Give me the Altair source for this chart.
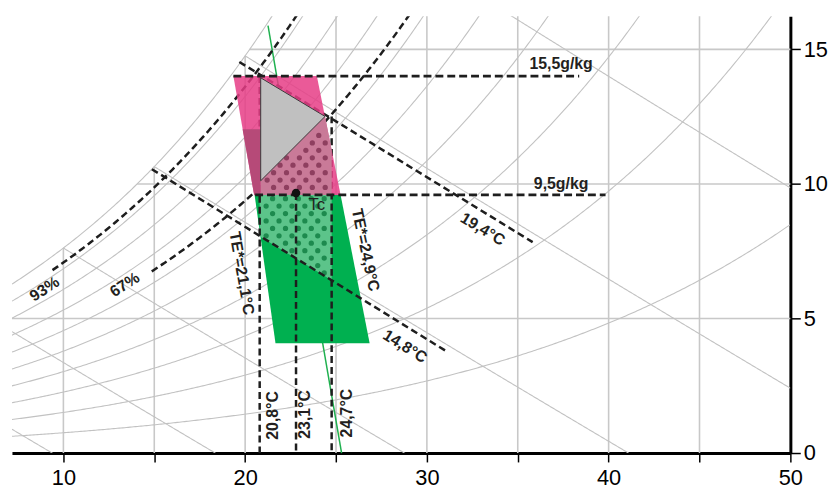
import altair as alt
import pandas as pd
import numpy as np

# ---------------- data ----------------
T_MIN, T_MAX = 7.17, 50.0
W_MIN, W_MAX = 0.0, 16.23

x_ticks = [10, 15, 20, 25, 30, 35, 40, 45, 50]
y_ticks = [0, 5, 10, 15]
grid_T = [10, 15, 20, 25, 30, 35, 40, 45]
grid_W = [5, 10, 15]
rh_levels = [0.1, 0.2, 0.3, 0.4, 0.5, 0.6, 0.7, 0.8, 0.9, 1.0]
wb_levels = [0, 5, 10, 15, 20, 25]

# zones (dry bulb degC, humidity ratio g/kg)
pink_W = [9.592, 14.007]
pink_Tl = [20.497, 19.353]
pink_Tr = [25.253, 23.946]

green_W = [4.08, 9.592]
green_Tl = [21.67, 20.52]
green_Tr = [26.85, 25.253]

strip_W = [9.592, 12.03]
strip_Tl = [20.497, 19.86]
strip_Tr = [20.856, 20.856]

tri_T = [20.856, 24.397]
tri_Wlo = [10.118, 12.509]
tri_Whi = [13.944, 12.509]

pdot_T = [20.856, 24.397, 24.761]
pdot_Wtop = [10.118, 12.509, 11.247]
pdot_Wbot = [9.592, 9.592, 9.592]

gdot_T = [20.8, 24.761]
gdot_Wtop = [9.592, 9.592]
gdot_Wbot = [8.054, 6.416]

# dashed reference lines: (name, [T...], [W...])
dash_segments = [
    ("v20.8", [20.8, 20.8], [14.007, -0.12]),
    ("v23.1", [22.80, 22.80], [9.665, -0.05]),
    ("v24.7", [24.76, 24.76], [12.509, -0.12]),
    ("wb19.4", [19.68, 35.82], [14.533, 7.837]),
    ("wb14.8", [14.868, 31.026], [10.548, 3.801]),
]
top_dash = [
    ("w15.5", [19.353, 38.38], [14.007, 14.007]),
    ("w9.5", [20.55, 39.83], [9.592, 9.592]),
]
rh_dash = [("93%", 0.93, 9.40), ("67%", 0.645, 14.86)]

green_line_T = [21.259, 25.307]
green_line_W = [15.883, 0.0]

tc_T, tc_W = [22.80], [9.665]

labels = ["93%", "67%", "TE*=21,1°C", "TE*=24,9°C", "20,8°C", "23,1°C", "24,7°C",
          "15,5g/kg", "9,5g/kg", "19,4°C", "14,8°C", "Tc"]
label_T = [8.965, 13.378, 19.805, 26.615, 21.532, 23.308, 25.623,
           37.385, 37.385, 33.07, 28.794, 23.946]
label_W = [6.089, 6.255, 6.678, 7.542, 1.398, 1.435, 1.483,
           14.441, 9.996, 8.315, 3.955, 9.198]
label_angle = [327, 327, 80, 78, 270, 270, 270, 0, 0, 31, 32, 0]
label_bold = [1, 1, 1, 1, 1, 1, 1, 1, 1, 1, 1, 0]

# ---------------- psychrometrics (chart construction) ----------------
P = 101.325


def ps_std(T):
    T = np.asarray(T, dtype=float)
    return 0.61094 * np.exp(17.625 * T / (T + 243.04))


def ps_chart(T):
    T = np.asarray(T, dtype=float)
    return ps_std(T) * (1 + 6.5e-5 * np.clip(T - 10, 0, None) ** 2)


def w_rh(T, rh, f=ps_chart):
    pv = rh * f(T)
    return 622 * pv / (P - pv)


def w_wb(T, twb):
    p = ps_chart(twb)
    ws = 0.622 * p / (P - p)
    return 1000 * ((2501 - 2.326 * twb) * ws - 1.006 * (T - twb)) / (2501 + 1.86 * T - 4.186 * twb)


Tf = np.arange(0, 50.001, 0.05)
Wsat = w_rh(Tf, 1.0)

rows = []
for rh in rh_levels:
    Ts = np.arange(T_MIN, T_MAX + 0.001, 0.1)
    Ws = w_rh(Ts, rh)
    keep = Ws <= W_MAX + 1.0
    for k, (t, w) in enumerate(zip(Ts[keep], Ws[keep])):
        rows.append({"id": f"rh{rh}", "k": k, "T": t, "W": w})
for twb in wb_levels:
    Ts = np.arange(max(twb, T_MIN), T_MAX + 0.001, 0.05)
    Ws = w_wb(Ts, twb)
    idx = np.where(Ws < 0)[0]
    end = idx[0] + 1 if len(idx) else len(Ts)
    for k, (t, w) in enumerate(zip(Ts[:end], Ws[:end])):
        rows.append({"id": f"wb{twb}", "k": k, "T": t, "W": w})
df_curves = pd.DataFrame(rows)

df_gv = pd.DataFrame({"T": grid_T,
                      "W0": [0.0] * len(grid_T),
                      "W1": [min(float(w_rh(t, 1.0)), W_MAX) for t in grid_T]})
df_gh = pd.DataFrame({"W": grid_W,
                      "T0": [max(T_MIN, float(np.interp(w, Wsat, Tf))) for w in grid_W],
                      "T1": [T_MAX] * len(grid_W)})

rows = []
for name, rh, t0 in rh_dash:
    Ts = np.arange(t0, 32, 0.1)
    Ws = w_rh(Ts, rh, ps_std)
    keep = Ws <= W_MAX + 0.6
    for k, (t, w) in enumerate(zip(Ts[keep], Ws[keep])):
        rows.append({"id": name, "k": k, "T": t, "W": w})
for name, ts, ws in dash_segments:
    for k, (t, w) in enumerate(zip(ts, ws)):
        rows.append({"id": name, "k": k, "T": t, "W": w})
df_dash = pd.DataFrame(rows)

rows = []
for name, ts, ws in top_dash:
    for k, (t, w) in enumerate(zip(ts, ws)):
        rows.append({"id": name, "k": k, "T": t, "W": w})
df_top = pd.DataFrame(rows)


def in_poly(x, y, poly):
    inside = False
    n = len(poly)
    for i in range(n):
        x1, y1 = poly[i]
        x2, y2 = poly[(i + 1) % n]
        if (y1 > y) != (y2 > y):
            xi = x1 + (y - y1) * (x2 - x1) / (y2 - y1)
            if x < xi:
                inside = not inside
    return inside


def dot_grid(poly, dx=0.71, dy=0.276):
    xs = [p[0] for p in poly]
    ys = [p[1] for p in poly]
    out = []
    i = 0
    y = min(ys) - dy
    while y <= max(ys) + dy:
        off = (dx / 2) if i % 2 else 0
        x = min(xs) - dx + off
        while x <= max(xs) + dx:
            ok = all(in_poly(x + ax, y + ay, poly)
                     for ax, ay in [(0, 0), (0.13, 0), (-0.13, 0), (0, 0.09), (0, -0.09)])
            if ok:
                out.append({"T": x, "W": y})
            x += dx
        y += dy
        i += 1
    return pd.DataFrame(out)


pink_poly = [(pdot_T[0], pdot_Wtop[0]), (pdot_T[1], pdot_Wtop[1]), (pdot_T[2], pdot_Wtop[2]),
             (pdot_T[2], pdot_Wbot[2]), (pdot_T[0], pdot_Wbot[0])]
green_poly = [(gdot_T[0], gdot_Wtop[0]), (gdot_T[1], gdot_Wtop[1]),
              (gdot_T[1], gdot_Wbot[1]), (gdot_T[0], gdot_Wbot[0])]
df_pdots = dot_grid(pink_poly)
df_gdots = dot_grid(green_poly)

# ---------------- encodings ----------------
xs = alt.Scale(domain=[T_MIN, T_MAX], nice=False, zero=False)
ys = alt.Scale(domain=[W_MIN, W_MAX], nice=False, zero=False)
AXFONT = "Liberation Sans, Arial"
x_axis = alt.Axis(values=x_ticks, labelExpr="datum.value % 10 == 0 ? datum.label : ''",
                  title=None, grid=False, orient="bottom", domainColor="black", domainWidth=3,
                  tickColor="black", tickWidth=1.5, tickSize=9, labelFontSize=22,
                  labelFont=AXFONT, labelColor="black", labelPadding=6, labelFlush=False,
                  labelOverlap=False)
y_axis = alt.Axis(values=y_ticks, title=None, grid=False, orient="right", domainColor="black",
                  domainWidth=3, tickColor="black", tickWidth=1.5, tickSize=10, labelFontSize=22,
                  labelFont=AXFONT, labelColor="black", labelPadding=3, labelFlush=False,
                  labelOverlap=False)


def X(f):
    return alt.X(f, type="quantitative", scale=xs, axis=x_axis)


def Y(f):
    return alt.Y(f, type="quantitative", scale=ys, axis=y_axis)


def quad_h(W, Tl, Tr, color, opacity=1.0):
    df = pd.DataFrame({"W": W, "Tl": Tl, "Tr": Tr})
    return alt.Chart(df).mark_area(orient="horizontal", color=color, opacity=opacity).encode(
        y=Y("W"), x=X("Tl"), x2=alt.X2("Tr"))


def quad_v(T, Wlo, Whi, color, opacity=1.0, stroke=None):
    df = pd.DataFrame({"T": T, "Wlo": Wlo, "Whi": Whi})
    kw = dict(orient="vertical", color=color, opacity=opacity)
    if stroke:
        kw.update(stroke=stroke, strokeWidth=1)
    return alt.Chart(df).mark_area(**kw).encode(x=X("T"), y=Y("Wlo"), y2=alt.Y2("Whi"))


grid_v = alt.Chart(df_gv).mark_rule(color="#c8c8c8", strokeWidth=1.6).encode(
    x=X("T"), y=Y("W0"), y2=alt.Y2("W1"))
grid_h = alt.Chart(df_gh).mark_rule(color="#c8c8c8", strokeWidth=1.6).encode(
    y=Y("W"), x=X("T0"), x2=alt.X2("T1"))
curves = alt.Chart(df_curves).mark_line(color="#c2c2c2", strokeWidth=1.1, clip=True).encode(
    x=X("T"), y=Y("W"), detail="id:N", order="k:Q")

gline = alt.Chart(pd.DataFrame({"T": green_line_T, "W": green_line_W})).mark_line(
    color="#1fb04f", strokeWidth=1.5).encode(x=X("T"), y=Y("W"))

green = quad_h(green_W, green_Tl, green_Tr, "#00b050")
gdot_base = quad_v(gdot_T, gdot_Wbot, gdot_Wtop, "#5cc48a")
gdots = alt.Chart(df_gdots).mark_circle(size=28, color="#1d8a4e", opacity=1).encode(
    x=X("T"), y=Y("W"))

dashes = alt.Chart(df_dash).mark_line(color="#1e1e1e", strokeWidth=2.5, strokeDash=[7, 4],
                                      clip=True).encode(
    x=X("T"), y=Y("W"), detail="id:N", order="k:Q")

pink = quad_h(pink_W, pink_Tl, pink_Tr, "#e63d86", opacity=0.85)
strip = quad_h(strip_W, strip_Tl, strip_Tr, "#b64a78")
pdot_base = quad_v(pdot_T, pdot_Wbot, pdot_Wtop, "#c97a98")
pdots = alt.Chart(df_pdots).mark_circle(size=28, color="#8e3f5f", opacity=1).encode(
    x=X("T"), y=Y("W"))
tri = quad_v(tri_T, tri_Wlo, tri_Whi, "#c0c0c0", stroke="#3a3a3a")

top = alt.Chart(df_top).mark_line(color="#1e1e1e", strokeWidth=2.6, strokeDash=[8, 4]).encode(
    x=X("T"), y=Y("W"), detail="id:N", order="k:Q")

tc = alt.Chart(pd.DataFrame({"T": tc_T, "W": tc_W})).mark_circle(
    size=75, color="#111111", opacity=1).encode(x=X("T"), y=Y("W"))

df_lab = pd.DataFrame({"T": label_T, "W": label_W, "text": labels, "angle": label_angle,
                       "bold": label_bold})
lab_b = alt.Chart(df_lab[df_lab.bold == 1]).mark_text(
    font="Liberation Sans, Arial", fontWeight="bold", fontSize=16, color="#231f20",
    align="center", baseline="middle").encode(
    x=X("T"), y=Y("W"), text="text:N", angle=alt.Angle("angle:Q", scale=None))
lab_n = alt.Chart(df_lab[df_lab.bold == 0]).mark_text(
    font="Liberation Sans, Arial", fontSize=17, color="#231f20",
    align="center", baseline="middle").encode(
    x=X("T"), y=Y("W"), text="text:N", angle=alt.Angle("angle:Q", scale=None))

chart = alt.layer(
    grid_v, grid_h, curves, gline, green, gdot_base, gdots, dashes,
    pink, strip, pdot_base, pdots, tri, top, tc, lab_b, lab_n
).properties(
    width=786, height=441,
    padding={"left": 4, "top": 6, "right": 39, "bottom": 38},
    autosize=alt.AutoSizeParams(type="none"),
    background="white",
).configure_view(stroke=None)

chart.save("out.html", embed_options={"renderer": "svg", "actions": False})
